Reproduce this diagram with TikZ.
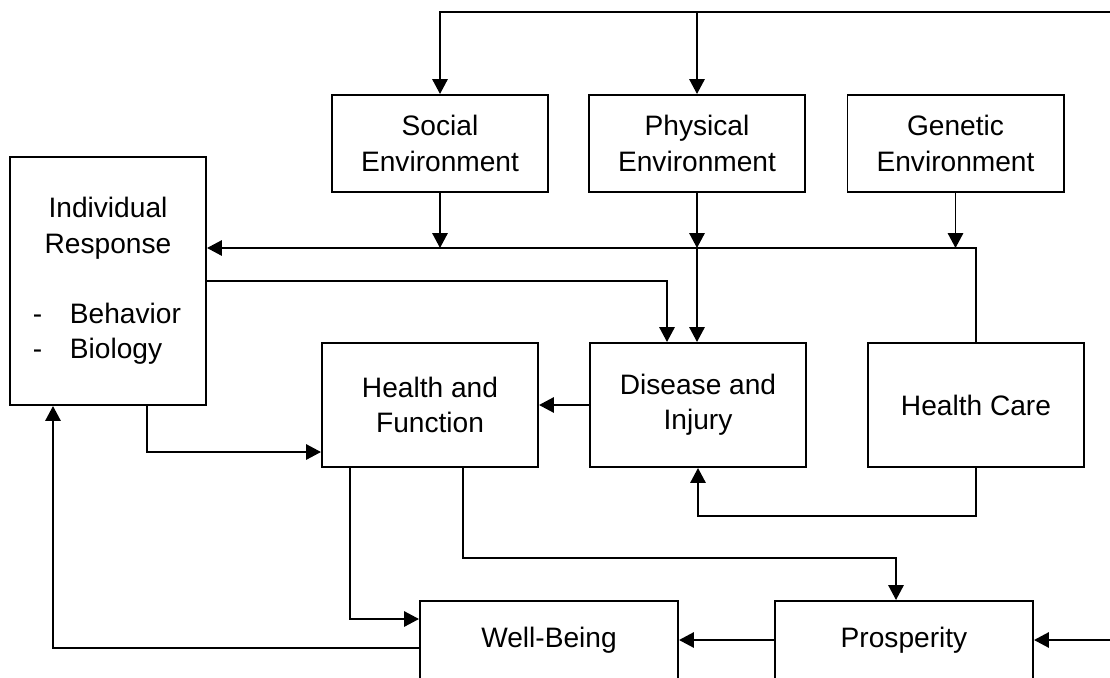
\documentclass[tikz,border=0pt]{standalone}
\usepackage{fontspec}
\setmainfont{Liberation Sans}
\usepackage{tikz}
\usetikzlibrary{arrows.meta,positioning,calc}

\begin{document}
\begin{tikzpicture}[
    x=0.025cm, y=-0.025cm,
    caja/.style={draw, line width=1.4pt, inner sep=0pt, align=center, font=\fontsize{20}{25}\selectfont},
    arriba/.style={caja, minimum width=5.4cm, minimum height=2.425cm},
    medio/.style={caja, minimum width=5.4cm, minimum height=3.1cm},
    abajo/.style={caja, minimum width=6.45cm, minimum height=1.95cm},
    flecha/.style={line width=1.4pt, -{Triangle[length=0.37cm, width=0.38cm]}},
    linea/.style={line width=1.4pt}
  ]
  \useasboundingbox (0,0) rectangle (1110,677);
  \clip (0,0) rectangle (1110,677);

  % Environments
  \node[arriba] (social)   at (440,143.5) {Social\\Environment};
  \node[arriba] (physical) at (697,143.5) {Physical\\Environment};
  \node[arriba] (genetic)  at (955.5,143.5) {Genetic\\Environment};

  % Individual response
  \node[caja, minimum width=4.9cm, minimum height=6.2cm] (indiv) at (108,281)
    {Individual\\Response\\[25pt]
     \makebox[3.75cm][l]{\makebox[0.925cm][l]{-}Behavior}\\
     \makebox[3.75cm][l]{\makebox[0.925cm][l]{-}Biology}};

  % Middle row
  \node[medio] (hfunc)   at (430,405) {Health and\\Function};
  \node[medio] (disease) at (698,405) {Disease and\\Injury};
  \node[medio] (hcare)   at (976,405) {Health Care};

  % Bottom row
  \node[abajo] (wellb) at (549,640) {Well-Being};
  \node[abajo] (prosp) at (904,640) {Prosperity};

  \coordinate (topR) at (1110,12);
  \coordinate (busR) at (976,248);
  \coordinate (inR)  at (1110,640);

  % Top feed
  \draw[flecha] (topR) -| (social.north);
  \draw[flecha] (physical.north |- topR) -- (physical.north);

  % Feedback bus
  \draw[flecha] (hcare.north) -- (busR) -- (indiv.east |- busR);
  \draw[flecha] (social.south) -- (social.south |- busR);
  \draw[flecha] (physical.south) -- (physical.south |- busR);
  \draw[flecha] (genetic.south) -- (genetic.south |- busR);
  \draw[flecha] (physical.south |- busR) -- (physical.south |- disease.north);

  \draw[flecha] (indiv.east) -| ($(disease.north)+(-31,0)$);
  \draw[flecha] ($(indiv.south)+(39,0)$) |- ($(hfunc.west)+(0,47)$);
  \draw[flecha] (disease.west) -- (hfunc.east);
  \draw[flecha] (hcare.south) -- ++(0,48) -| (disease.south);

  % Outcomes
  \draw[flecha] ($(hfunc.south)+(-80,0)$) |- ($(wellb.west)+(0,-21)$);
  \draw[flecha] ($(hfunc.south)+(33,0)$) -- ++(0,90) -| ($(prosp.north)+(-8,0)$);
  \draw[flecha] (prosp.west) -- (wellb.east);
  \draw[flecha] (inR) -- (prosp.east);
  \draw[flecha] ($(wellb.west)+(0,8)$) -| ($(indiv.south)+(-55,0)$);
\end{tikzpicture}
\end{document}
